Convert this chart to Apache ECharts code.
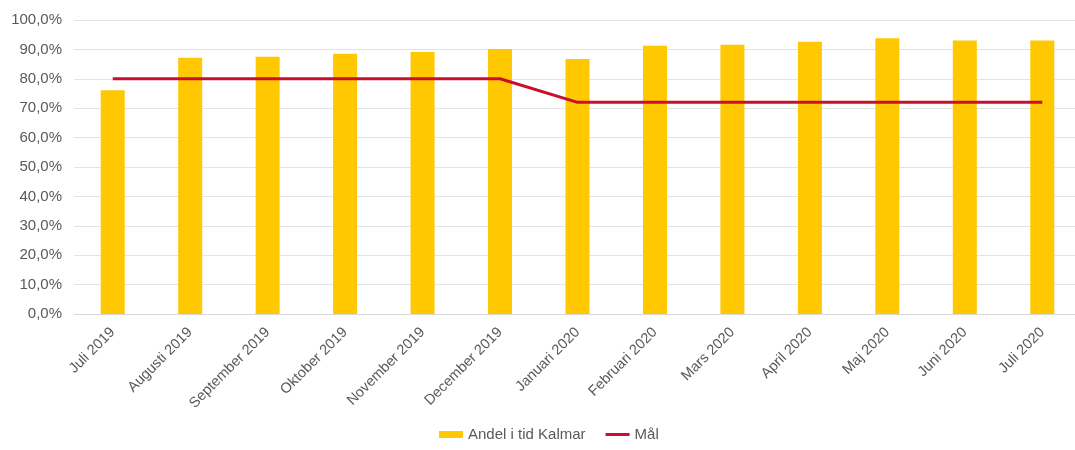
<!DOCTYPE html>
<html>
<head>
<meta charset="utf-8">
<script src="https://cdn.jsdelivr.net/npm/echarts@6/dist/echarts.min.js"></script>
<style>
body { margin: 0px; background: #fff; overflow: hidden; }
#main1 { width: 1081px; height: 450px; }
</style>
</head>
<body>
<div id="main1"></div>
<script>
var months = ['Juli 2019', 'Augusti 2019', 'September 2019', 'Oktober 2019', 'November 2019', 'December 2019',
	'Januari 2020', 'Februari 2020', 'Mars 2020', 'April 2020', 'Maj 2020', 'Juni 2020', 'Juli 2020'];
var andel = [76.1, 87.2, 87.5, 88.5, 89.1, 90.1, 86.7, 91.2, 91.6, 92.6, 93.8, 93.0, 93.0];
var mal = [80, 80, 80, 80, 80, 80, 72, 72, 72, 72, 72, 72, 72];

var myChart = echarts.init(document.getElementById('main1'));
var font = 'Liberation Sans, Arial, sans-serif';

var option = {
	animation: false,
	textStyle: { fontFamily: font },
	grid: {
		left: 74,
		right: 0,
		top: 20,
		bottom: 136
	},
	legend: {
		bottom: 3,
		left: 434,
		itemWidth: 24,
		itemHeight: 7,
		itemGap: 20,
		textStyle: { color: '#595959', fontSize: 15, fontFamily: font },
		data: [
			{ name: 'Andel i tid Kalmar', icon: 'rect' },
			{ name: 'Mål', icon: 'path://M0,0 L24,0 L24,3 L0,3 Z' }
		]
	},
	xAxis: {
		type: 'category',
		data: months,
		axisLine: { show: true, lineStyle: { color: '#d9d9d9' } },
		axisTick: { show: false },
		axisLabel: {
			rotate: 45,
			interval: 0,
			color: '#595959',
			fontSize: 14.5,
			margin: 16
		}
	},
	yAxis: {
		type: 'value',
		min: 0,
		max: 100,
		interval: 10,
		axisLine: { show: false },
		axisTick: { show: false },
		splitLine: { lineStyle: { color: '#e3e3e3' } },
		axisLabel: {
			color: '#595959',
			fontSize: 15,
			margin: 12,
			formatter: function (v) {
				return v.toFixed(1).replace('.', ',') + '%';
			}
		}
	},
	series: [
		{
			name: 'Andel i tid Kalmar',
			type: 'bar',
			barWidth: 24,
			itemStyle: { color: '#ffc800' },
			data: andel
		},
		{
			name: 'Mål',
			type: 'line',
			symbol: 'none',
			lineStyle: { color: '#c8102e', width: 3 },
			itemStyle: { color: '#c8102e' },
			data: mal
		}
	]
};

myChart.setOption(option);
</script>
</body>
</html>
